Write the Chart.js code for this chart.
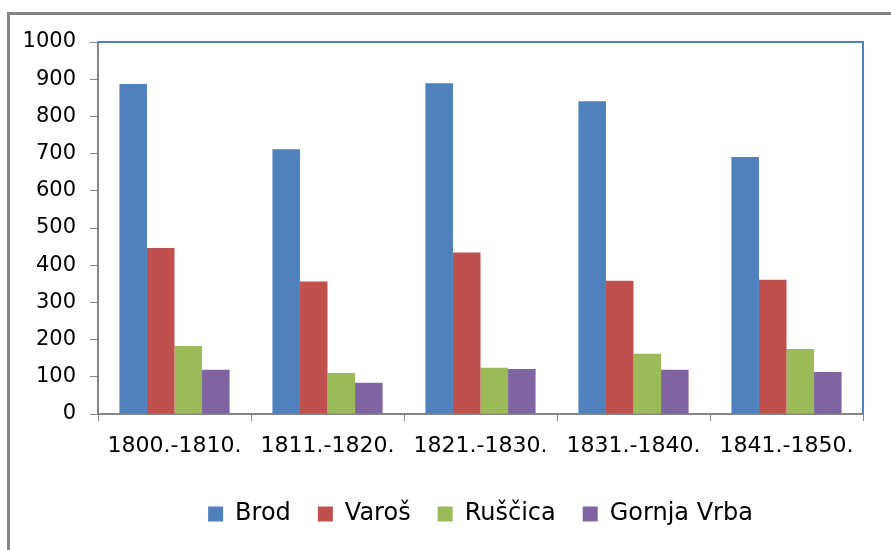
<!DOCTYPE html>
<html>
<head>
<meta charset="utf-8">
<script src="https://cdn.jsdelivr.net/npm/chart.js@4"></script>
<style>
  html, body { margin: 0; padding: 0; background: #fff; overflow: hidden; }
  #frame {
    position: absolute; left: 7px; top: 12px; width: 1000px; height: 700px;
    border-left: 3px solid #858585; border-top: 3px solid #858585;
  }
  #wrap { position: absolute; left: 0; top: 0; width: 891px; height: 550px; }
</style>
</head>
<body>
<div id="frame"></div>
<div id="wrap"><canvas id="popChart"></canvas></div>
<script>
// razdoblja
const periods = ['1800.-1810.', '1811.-1820.', '1821.-1830.', '1831.-1840.', '1841.-1850.'];
const brod = [887, 712, 889, 841, 691];
const varos = [446, 356, 434, 358, 361];
const ruscica = [183, 110, 124, 162, 175];
const gornjaVrba = [119, 84, 121, 119, 113];
const yTicks = [0, 100, 200, 300, 400, 500, 600, 700, 800, 900, 1000];

const FONT = 'DejaVu Sans, sans-serif';

// plavi rub gore i desno od područja crtanja
const plotBorder = {
    id: 'plotBorder',
    afterDraw(chart) {
        const { ctx, chartArea: a } = chart;
        ctx.save();
        ctx.strokeStyle = '#4F81BD';
        ctx.lineWidth = 2;
        ctx.beginPath();
        ctx.moveTo(a.left, a.top);
        ctx.lineTo(a.right, a.top);
        ctx.lineTo(a.right, a.bottom);
        ctx.stroke();
        ctx.restore();
    }
};

const ctx = document.getElementById('popChart').getContext('2d');
const popChart = new Chart(ctx, {
    type: 'bar',
    data: {
        labels: periods,
        datasets: [{
            label: 'Brod',
            data: brod,
            backgroundColor: '#4F81BD'
        }, {
            label: 'Varoš',
            data: varos,
            backgroundColor: '#C0504D'
        }, {
            label: 'Ruščica',
            data: ruscica,
            backgroundColor: '#9BBB59'
        }, {
            label: 'Gornja Vrba',
            data: gornjaVrba,
            backgroundColor: '#8064A2'
        }]
    },
    options: {
        responsive: true,
        maintainAspectRatio: false,
        animation: false,
        layout: {
            padding: { left: 0, top: 42, right: 28, bottom: 14 }
        },
        datasets: {
            bar: { categoryPercentage: 0.72, barPercentage: 1.0 }
        },
        scales: {
            x: {
                grid: {
                    display: true,
                    drawOnChartArea: false,
                    tickLength: 7,
                    color: '#868686',
                    offset: true
                },
                border: { color: '#868686', width: 2 },
                ticks: {
                    color: '#000',
                    font: { family: FONT, size: 22 },
                    padding: 12,
                    maxRotation: 0
                },
                afterFit(scale) { scale.height = 61; }
            },
            y: {
                min: 0,
                max: 1000,
                afterBuildTicks(scale) {
                    scale.ticks = yTicks.map(v => ({ value: v }));
                },
                grid: {
                    display: true,
                    drawOnChartArea: false,
                    tickLength: 8,
                    color: '#868686'
                },
                border: { color: '#868686', width: 2 },
                ticks: {
                    color: '#000',
                    font: { family: FONT, size: 21 },
                    padding: 14,
                    callback: v => String(v)
                },
                afterFit(scale) { scale.width = 98; }
            }
        },
        plugins: {
            legend: {
                position: 'bottom',
                fullSize: false,
                labels: {
                    color: '#000',
                    font: { family: FONT, size: 24 },
                    boxWidth: 15,
                    boxHeight: 15,
                    padding: 27
                }
            },
            tooltip: { enabled: false }
        }
    },
    plugins: [plotBorder]
});
</script>
</body>
</html>
